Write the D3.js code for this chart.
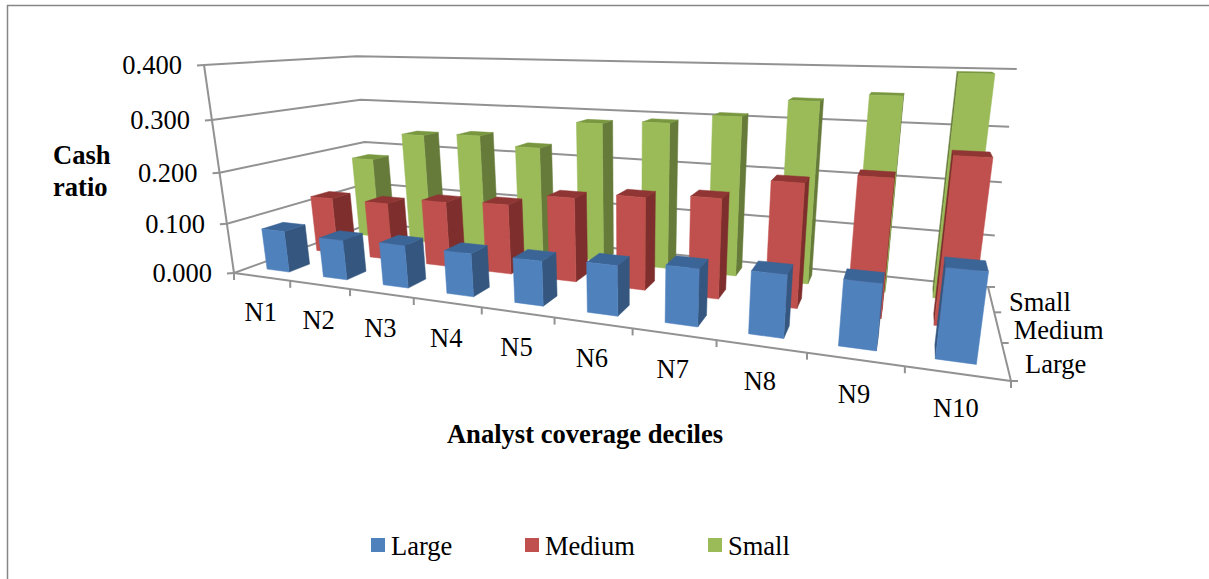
<!DOCTYPE html>
<html>
<head>
<meta charset="utf-8">
<script src="https://cdn.jsdelivr.net/npm/d3@7"></script>
<style>
    html, body { margin: 0; padding: 0; background: #fff; }
    text { font-family: "Liberation Serif", serif; fill: #000; }
</style>
</head>
<body>
<svg id="chart" width="1209" height="579"></svg>
<script>
const deciles = ['N1', 'N2', 'N3', 'N4', 'N5', 'N6', 'N7', 'N8', 'N9', 'N10'];
const sizes = ['Large', 'Medium', 'Small'];
const largeValues = [0.083, 0.078, 0.082, 0.081, 0.082, 0.089, 0.099, 0.105, 0.107, 0.141];
const mediumValues = [0.119, 0.119, 0.133, 0.139, 0.163, 0.175, 0.184, 0.221, 0.239, 0.280];
const smallValues = [0.179, 0.240, 0.246, 0.228, 0.284, 0.291, 0.309, 0.342, 0.356, 0.396];
const yTicks = [0, 0.1, 0.2, 0.3, 0.4];

const valuesBySize = { Large: largeValues, Medium: mediumValues, Small: smallValues };
const colors = {
    Large: { front: '#4f81bd', side: '#34567f', top: '#3b6596' },
    Medium: { front: '#c0504d', side: '#7e2f2d', top: '#8f3533' },
    Small: { front: '#9bbb59', side: '#667b3a', top: '#78973f' }
};
const gridColor = '#929292';

const svg = d3.select('#chart');

// floor of the 3d box on screen: front left, front right, back right, back left
const floor = [[234, 273], [1011, 381], [988, 287], [372, 223]];
// where the verticals meet, and the screen y of the 0.4 level on the front left corner
const vanish = [629, 3011];
const topLeftY = 65;

// unit square to quad homography
function quadMatrix(q) {
    const [[x0, y0], [x1, y1], [x2, y2], [x3, y3]] = q;
    const dx1 = x1 - x2, dx2 = x3 - x2, sx = x0 - x1 + x2 - x3;
    const dy1 = y1 - y2, dy2 = y3 - y2, sy = y0 - y1 + y2 - y3;
    const det = dx1 * dy2 - dx2 * dy1;
    const g = (sx * dy2 - dx2 * sy) / det;
    const h = (dx1 * sy - sx * dy1) / det;
    return [x1 - x0 + g * x1, x3 - x0 + h * x3, x0, y1 - y0 + g * y1, y3 - y0 + h * y3, y0, g, h, 1];
}
const H = quadMatrix(floor);
const k = (topLeftY - floor[0][1]) / (vanish[1] - topLeftY);

const xScale = d3.scaleBand().domain(deciles).range([0, 1]).paddingInner(0.6).paddingOuter(0.3);
const zScale = d3.scaleBand().domain(sizes).range([0, 1]).paddingInner(0.6).paddingOuter(0.3);
const vScale = d3.scaleLinear().domain([0, 0.4]).range([0, 1]);

// x across, z into the picture (both 0..1), v is the value
function project(x, z, v) {
    const t = vScale(v) * k;
    const w = H[6] * x + H[7] * z + H[8] + t;
    return [
        (H[0] * x + H[1] * z + H[2] + t * vanish[0]) / w,
        (H[3] * x + H[4] * z + H[5] + t * vanish[1]) / w
    ];
}

const line = d3.line();

// frame
svg.append('path')
    .attr('d', 'M7.5,579V5.5H1209')
    .attr('fill', 'none')
    .attr('stroke', '#868686')
    .attr('stroke-width', 1.5);

// walls and gridlines
const grid = svg.append('g').attr('fill', 'none').attr('stroke', gridColor).attr('stroke-width', 2);

grid.selectAll('.gridline')
    .data(yTicks)
    .join('path')
    .attr('class', 'gridline')
    .attr('d', d => line([project(0, 0, d), project(0, 1, d), project(1, 1, d)]));

grid.append('path').attr('d', line([project(0, 0, 0), project(0, 0, 0.4)]));
grid.append('path').attr('d', line([project(0, 0, 0), project(1, 0, 0), project(1, 1, 0)]));

grid.selectAll('.ytick')
    .data(yTicks)
    .join('path')
    .attr('class', 'ytick')
    .attr('d', d => {
        const p = project(0, 0, d);
        return line([p, [p[0] - 7, p[1] + 0.5]]);
    });

grid.selectAll('.xtick')
    .data(d3.range(deciles.length + 1))
    .join('path')
    .attr('class', 'xtick')
    .attr('d', i => {
        const p = project(i / deciles.length, 0, 0);
        return line([p, [p[0], p[1] + 7]]);
    });

grid.selectAll('.ztick')
    .data(d3.range(sizes.length + 1))
    .join('path')
    .attr('class', 'ztick')
    .attr('d', i => {
        const p = project(1, i / sizes.length, 0);
        return line([p, [p[0] + 7, p[1]]]);
    });

// bars, back row first
const bars = [];
sizes.slice().reverse().forEach(s => {
    deciles.forEach((n, i) => {
        bars.push({ size: s, decile: n, value: valuesBySize[s][i] });
    });
});

function barFaces(d) {
    const x0 = xScale(d.decile), x1 = x0 + xScale.bandwidth();
    const z0 = zScale(d.size), z1 = z0 + zScale.bandwidth();
    const c = colors[d.size];
    const faces = [
        { pts: [[x0, z1, 0], [x0, z0, 0], [x0, z0, d.value], [x0, z1, d.value]], fill: c.side },
        { pts: [[x1, z0, 0], [x1, z1, 0], [x1, z1, d.value], [x1, z0, d.value]], fill: c.side },
        { pts: [[x0, z0, d.value], [x1, z0, d.value], [x1, z1, d.value], [x0, z1, d.value]], fill: c.top },
        { pts: [[x0, z0, 0], [x1, z0, 0], [x1, z0, d.value], [x0, z0, d.value]], fill: c.front }
    ];
    // keep only the faces turned towards the viewer
    return faces
        .map(f => ({ pts: f.pts.map(p => project(p[0], p[1], p[2])), fill: f.fill }))
        .filter(f => d3.polygonArea(f.pts) > 0);
}

svg.append('g').selectAll('g')
    .data(bars)
    .join('g')
    .selectAll('path')
    .data(barFaces)
    .join('path')
    .attr('d', d => line(d.pts) + 'Z')
    .attr('fill', d => d.fill)
    .attr('stroke', d => d.fill)
    .attr('stroke-width', 0.5);

// tick labels
const tickFont = 26.5;

svg.append('g').selectAll('text')
    .data(yTicks)
    .join('text')
    .attr('x', d => project(0, 0, d)[0] - 22)
    .attr('y', d => project(0, 0, d)[1] + 9)
    .attr('text-anchor', 'end')
    .attr('font-size', tickFont)
    .text(d => d3.format('.3f')(d));

svg.append('g').selectAll('text')
    .data(deciles)
    .join('text')
    .attr('x', d => project(xScale(d) + xScale.bandwidth() / 2, 0, 0)[0] - 1)
    .attr('y', d => project(xScale(d) + xScale.bandwidth() / 2, 0, 0)[1] + 44)
    .attr('text-anchor', 'middle')
    .attr('font-size', tickFont)
    .text(d => d);

const sizeLabelOffset = { Large: 19, Medium: 16, Small: 18 };
svg.append('g').selectAll('text')
    .data(sizes)
    .join('text')
    .attr('x', d => project(1, zScale(d) + zScale.bandwidth() / 2, 0)[0] + sizeLabelOffset[d])
    .attr('y', d => project(1, zScale(d) + zScale.bandwidth() / 2, 0)[1] + 12)
    .attr('font-size', tickFont)
    .text(d => d);

// titles
svg.append('text')
    .attr('x', 585).attr('y', 443)
    .attr('text-anchor', 'middle')
    .attr('font-size', 26.6)
    .attr('font-weight', 'bold')
    .text('Analyst coverage deciles');

svg.append('g').selectAll('text')
    .data(['Cash', 'ratio'])
    .join('text')
    .attr('x', 53)
    .attr('y', (d, i) => 164 + i * 32)
    .attr('font-size', 26.6)
    .attr('font-weight', 'bold')
    .text(d => d);

// legend
const legendX = d3.scaleOrdinal().domain(sizes).range([371, 525, 708]);
const legend = svg.append('g').selectAll('g')
    .data(sizes)
    .join('g')
    .attr('transform', d => `translate(${legendX(d)},538)`);

legend.append('rect')
    .attr('width', 14).attr('height', 14)
    .attr('fill', d => colors[d].front);

legend.append('text')
    .attr('x', 20).attr('y', 17)
    .attr('font-size', tickFont)
    .text(d => d);
</script>
</body>
</html>
